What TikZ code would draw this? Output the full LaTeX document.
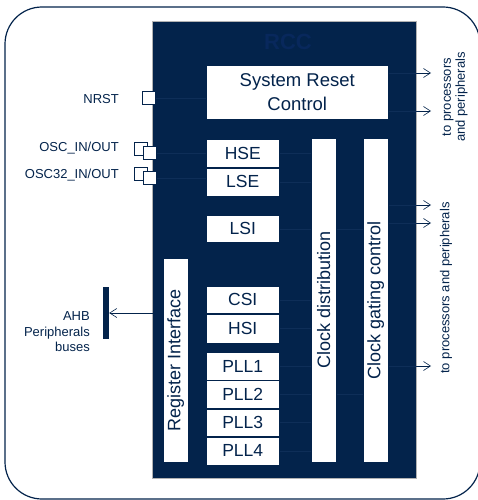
\documentclass[tikz,border=0pt]{standalone}
\usepackage{fontspec}
\setmainfont{Liberation Sans}
\usetikzlibrary{arrows.meta,positioning,calc}
\definecolor{rccnavy}{RGB}{3,35,75}
\definecolor{rcctitle}{RGB}{8,40,92}
\definecolor{rccwire}{RGB}{14,46,88}
\newcommand{\pxfont}[1]{\fontsize{#1}{#1}\selectfont}
\newcommand{\vtext}[1]{\rotatebox{90}{#1}}
\tikzset{
  box/.style={draw=rccnavy,line width=0.5pt,fill=white,text=rccnavy,inner sep=0pt,anchor=north west,font=\pxfont{17.5}},
  oscbox/.style={box,minimum width=73pt,minimum height=28pt},
  pllbox/.style={box,minimum width=73pt,minimum height=27.75pt},
  barbox/.style={box,minimum width=25pt,font=\pxfont{18}},
  pinbox/.style={draw=rccnavy,line width=0.8pt,fill=white,minimum size=13pt,inner sep=0pt,anchor=north west},
  sidelabel/.style={text=rccnavy,inner sep=0pt,font=\fontsize{13}{15.5}\selectfont},
  wire/.style={draw=rccwire,line width=0.5pt},
  outarrow/.style={draw=rccnavy,line width=0.6pt,-{Straight Barb[length=7pt,width=9pt]}},
}

\begin{document}
\begin{tikzpicture}[x=1pt,y=-1pt]
\clip (0,0) rectangle (478,500);
\draw[rccnavy,line width=1.2pt,rounded corners=37pt] (5,7) rectangle (480,499);
\node[fill=rccnavy,draw=gray!60,line width=0.5pt,anchor=north west,minimum width=264pt,minimum height=457pt,inner sep=0pt] (rcc) at (152,21) {};
\node[font=\pxfont{22}\bfseries,text=rcctitle] (title) at (288,42) {RCC};

\node[box,minimum width=182pt,minimum height=54pt,align=center,font=\fontsize{18.5}{24}\selectfont] (src) at (206,65) {System Reset\\Control};

\node[oscbox] (hse) at (206,139) {HSE};
\node[oscbox,below=0pt of hse] (lse) {LSE};
\node[oscbox,minimum height=27pt] (lsi) at (206,215) {LSI};
\node[oscbox,minimum height=27pt] (csi) at (206,286) {CSI};
\node[oscbox,minimum height=29pt,below=0pt of csi] (hsi) {HSI};
\node[pllbox] (pll1) at (206,352) {PLL1};
\node[pllbox,below=0pt of pll1] (pll2) {PLL2};
\node[pllbox,below=0pt of pll2] (pll3) {PLL3};
\node[pllbox,below=0pt of pll3] (pll4) {PLL4};

\node[barbox,minimum height=204pt] (regif) at (163,258) {\vtext{Register Interface}};
\node[barbox,minimum height=324pt] (cdist) at (311,138) {\vtext{Clock distribution}};
\node[barbox,minimum height=324pt] (cgate) at (363,138) {\vtext{Clock gating control}};

\node[pinbox] (nrst) at (142,91) {};
\node[pinbox] (oscback) at (134,142) {};
\node[pinbox] (osc) at (143,146) {};
\node[pinbox] (osc32back) at (134,167) {};
\node[pinbox] (osc32) at (143,171) {};
\node[sidelabel,anchor=east] (nrstlbl) at (119,99) {NRST};
\node[sidelabel,anchor=east] (osclbl) at (119,148) {OSC\_IN/OUT};
\node[sidelabel,anchor=east] (osc32lbl) at (119,175) {OSC32\_IN/OUT};

\node[fill=rccnavy,minimum width=6pt,minimum height=52pt,inner sep=0pt] (ahb) at (106,313) {};
\node[sidelabel,anchor=east,align=right] (ahblbl) at (90,332) {AHB\\Peripherals\\buses};

\draw[wire] (nrst.east) -- (src.west |- nrst.east);
\draw[wire] (osc.east) -- (hse.west |- osc.east);
\draw[wire] (osc32.east) -- (lse.west |- osc32.east);
\foreach \src in {hse,lse,lsi,csi,hsi,pll1,pll2,pll3,pll4}
  \draw[wire] (\src.east) -- (cdist.west |- \src.east);
\draw[wire] (cdist.east |- lsi.east) -- (cgate.west |- lsi.east);
\draw[wire] (cdist.east |- pll2.east) -- (cgate.west |- pll2.east);

\coordinate (out1) at (431,73);
\coordinate (out2) at (431,111);
\coordinate (out3) at (431,205);
\coordinate (out4) at (431,223);
\coordinate (out5) at (431,366);
\draw[wire] (src.east |- out1) -- (rcc.east |- out1);
\draw[wire] (src.east |- out2) -- (rcc.east |- out2);
\foreach \o in {out3,out4,out5}
  \draw[wire] (cgate.east |- \o) -- (rcc.east |- \o);
\foreach \o in {out1,out2,out3,out4,out5}
  \draw[outarrow] (rcc.east |- \o) -- (\o);
\draw[outarrow] (regif.west |- ahb) -- (ahb.east);

\node[rotate=90,align=center,text=rccnavy,font=\fontsize{13}{14}\selectfont] (dest1) at (455,97) {to processors\\and peripherals};
\node[rotate=90,text=rccnavy,font=\pxfont{13}] (dest2) at (446,288) {to processors and peripherals};
\end{tikzpicture}
\end{document}
